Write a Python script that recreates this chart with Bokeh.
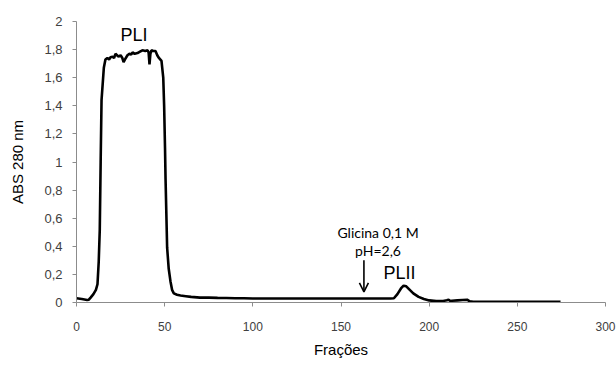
from bokeh.plotting import figure
from bokeh.models import Range1d, FixedTicker, Arrow, OpenHead
from bokeh.core.properties import value
from bokeh.embed import file_html
from bokeh.resources import INLINE

# Fractions (x) and absorbance at 280 nm (y)
fractions = [0, 3, 6, 7, 8, 9.6, 11, 11.9, 12.6, 13.2, 13.7, 14.2, 15.5, 16.4,
             17.5, 18.5, 19.3, 20.5, 21.3, 22.1, 23.0, 23.8, 25.0, 26.0, 26.7,
             27.5, 28.9, 30.0, 31.0, 31.8, 33.0, 34.6, 36.0, 37.4, 39.0, 40.3,
             40.9, 41.4, 41.9, 42.5, 43.5, 44.8, 45.8, 46.5, 48.2, 49.2, 49.7,
             50.2, 50.5, 51.4, 52.3, 53.3, 54.2, 55.2, 57, 59, 62, 65, 70, 75,
             80, 85, 90, 95, 100, 110, 120, 130, 140, 150, 160, 170, 178, 180,
             182, 184, 185.5, 187, 189, 191, 194, 197, 200, 204, 208, 210, 211,
             212, 213, 216, 219, 221.5, 223, 225, 230, 240, 250, 260, 270, 274.5]
absorbance = [0.03, 0.025, 0.018, 0.02, 0.035, 0.06, 0.09, 0.13, 0.29, 0.52,
              1.0, 1.44, 1.67, 1.73, 1.74, 1.73, 1.745, 1.75, 1.74, 1.77, 1.76,
              1.75, 1.76, 1.74, 1.71, 1.73, 1.76, 1.77, 1.765, 1.78, 1.77,
              1.775, 1.785, 1.795, 1.79, 1.795, 1.78, 1.695, 1.77, 1.795, 1.79,
              1.79, 1.76, 1.745, 1.72, 1.6, 1.4, 1.1, 0.88, 0.39, 0.24, 0.15,
              0.09, 0.065, 0.055, 0.05, 0.045, 0.04, 0.035, 0.035, 0.033,
              0.032, 0.03, 0.03, 0.028, 0.028, 0.028, 0.028, 0.028, 0.028,
              0.028, 0.028, 0.028, 0.03, 0.06, 0.1, 0.12, 0.115, 0.09, 0.065,
              0.04, 0.025, 0.015, 0.01, 0.01, 0.016, 0.02, 0.01, 0.012, 0.015,
              0.018, 0.02, 0.008, 0.005, 0.005, 0.005, 0.005, 0.005, 0.005,
              0.005]

x_ticks = [0, 50, 100, 150, 200, 250, 300]
y_ticks = [0, 0.2, 0.4, 0.6, 0.8, 1, 1.2, 1.4, 1.6, 1.8, 2]
y_tick_labels = ["0", "0,2", "0,4", "0,6", "0,8", "1", "1,2", "1,4", "1,6", "1,8", "2"]

peak_labels = ["PLI", "PLII"]
peak_x = [32.6, 183.2]
peak_y = [1.905, 0.207]

note_lines = ["Glicina 0,1 M", "pH=2,6"]
note_x = [171, 171]
note_y = [0.496, 0.367]
arrow_x = 163
arrow_y_start = 0.30
arrow_y_end = 0.075

FONT = "Liberation Sans"

p = figure(width=616, height=367, output_backend="svg", toolbar_location=None,
           x_range=Range1d(0, 300), y_range=Range1d(0, 2),
           min_border_left=76, min_border_right=11, min_border_top=21,
           min_border_bottom=65, background_fill_color="white",
           border_fill_color="white")
p.outline_line_color = None
p.xgrid.visible = False
p.ygrid.visible = False

p.line(fractions, absorbance, line_color="black", line_width=2.6)

for ax in (p.xaxis[0], p.yaxis[0]):
    ax.axis_line_color = "#8c8c8c"
    ax.axis_line_width = 1
    ax.major_tick_line_color = "#8c8c8c"
    ax.major_tick_in = 0
    ax.major_tick_out = 4
    ax.minor_tick_line_color = None
    ax.major_label_text_font = FONT
    ax.major_label_text_color = "#404040"
    ax.axis_label_text_font = FONT
    ax.axis_label_text_font_style = "normal"
    ax.axis_label_text_color = "black"
    ax.axis_label_text_font_size = "15px"

p.xaxis.ticker = FixedTicker(ticks=x_ticks)
p.xaxis.major_label_text_font_size = "12px"
p.xaxis.major_label_standoff = 15
p.xaxis.axis_label = "Frações"
p.xaxis.axis_label_standoff = 7

p.yaxis.ticker = FixedTicker(ticks=y_ticks)
p.yaxis.major_label_overrides = dict(zip(y_ticks, y_tick_labels))
p.yaxis.major_label_text_font_size = "13px"
p.yaxis.major_label_standoff = 10
p.yaxis.axis_label = "ABS 280 nm"
p.yaxis.axis_label_standoff = 15

p.text(x=peak_x, y=peak_y, text=peak_labels, text_font=value(FONT),
       text_font_size="18px", text_align="center", text_baseline="middle",
       text_color="black")
p.text(x=note_x, y=note_y, text=note_lines, text_font=value("Lato"),
       text_font_size="14px", text_align="center", text_baseline="middle",
       text_color="black")

p.add_layout(Arrow(end=OpenHead(size=9, line_width=1.6, line_color="black"),
                   x_start=arrow_x, y_start=arrow_y_start,
                   x_end=arrow_x, y_end=arrow_y_end,
                   line_width=1.6, line_color="black"))

open("out.html", "w").write(file_html(p, INLINE))
